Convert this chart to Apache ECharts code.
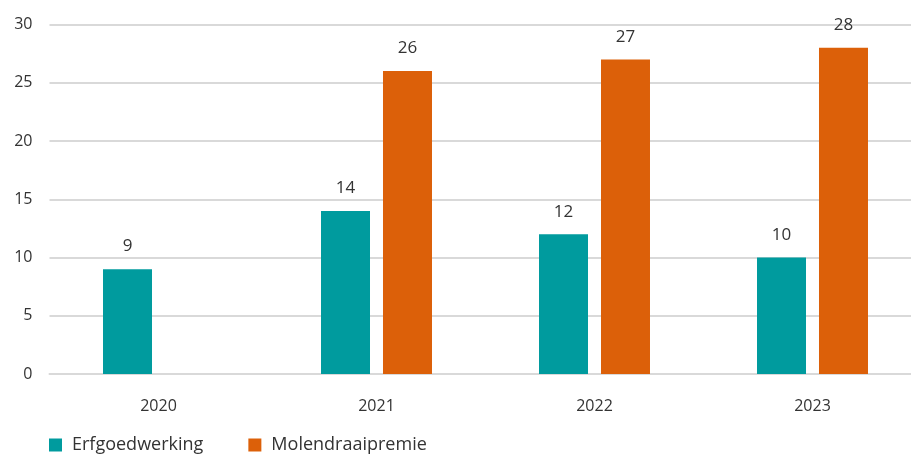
<!DOCTYPE html>
<html>
<head>
<meta charset="utf-8">
<script src="https://cdn.jsdelivr.net/npm/echarts@6/dist/echarts.min.js"></script>
<style>html,body{margin:0;padding:0;background:#fff;overflow:hidden}#c{width:922px;height:455px}</style>
</head>
<body>
<div id="c"></div>
<script>
var categories = ['2020', '2021', '2022', '2023'];
var erfgoedwerking = [9, 14, 12, 10];
var molendraaipremie = [null, 26, 27, 28];
var yTicks = { min: 0, max: 30, interval: 5 };

var FONT = '"Open Sans", sans-serif';
var TXT = '#333333';
var chart = echarts.init(document.getElementById('c'), null, { renderer: 'canvas' });
var labelOpt = { show: true, position: 'top', distance: 14, color: TXT, fontFamily: FONT, fontSize: 17 };
chart.setOption({
  animation: false,
  textStyle: { fontFamily: FONT },
  grid: { left: 49.5, top: 24.5, right: 0.5, bottom: 81, containLabel: false },
  legend: {
    left: 44, top: 431,
    itemWidth: 13, itemHeight: 13, itemGap: 45,
    icon: 'rect',
    textStyle: { fontFamily: FONT, fontSize: 18, color: TXT, padding: [0, 0, 0, 5] },
    data: ['Erfgoedwerking', 'Molendraaipremie']
  },
  xAxis: {
    type: 'category', data: categories,
    axisLine: { show: true, lineStyle: { color: '#d9d9d9', width: 2 } },
    axisTick: { show: false },
    axisLabel: { color: TXT, fontFamily: FONT, fontSize: 16, margin: 24 }
  },
  yAxis: {
    type: 'value', min: yTicks.min, max: yTicks.max, interval: yTicks.interval,
    axisLine: { show: false }, axisTick: { show: false },
    splitLine: { lineStyle: { color: '#d9d9d9', width: 2 } },
    axisLabel: { color: TXT, fontFamily: FONT, fontSize: 16, margin: 17 }
  },
  series: [
    { name: 'Erfgoedwerking', type: 'bar', data: erfgoedwerking, barWidth: 49, barGap: '26.5%',
      itemStyle: { color: '#009B9E' }, label: labelOpt },
    { name: 'Molendraaipremie', type: 'bar', data: molendraaipremie, barWidth: 49, barGap: '26.5%',
      itemStyle: { color: '#DC6009' }, label: labelOpt }
  ]
});
</script>
</body>
</html>
